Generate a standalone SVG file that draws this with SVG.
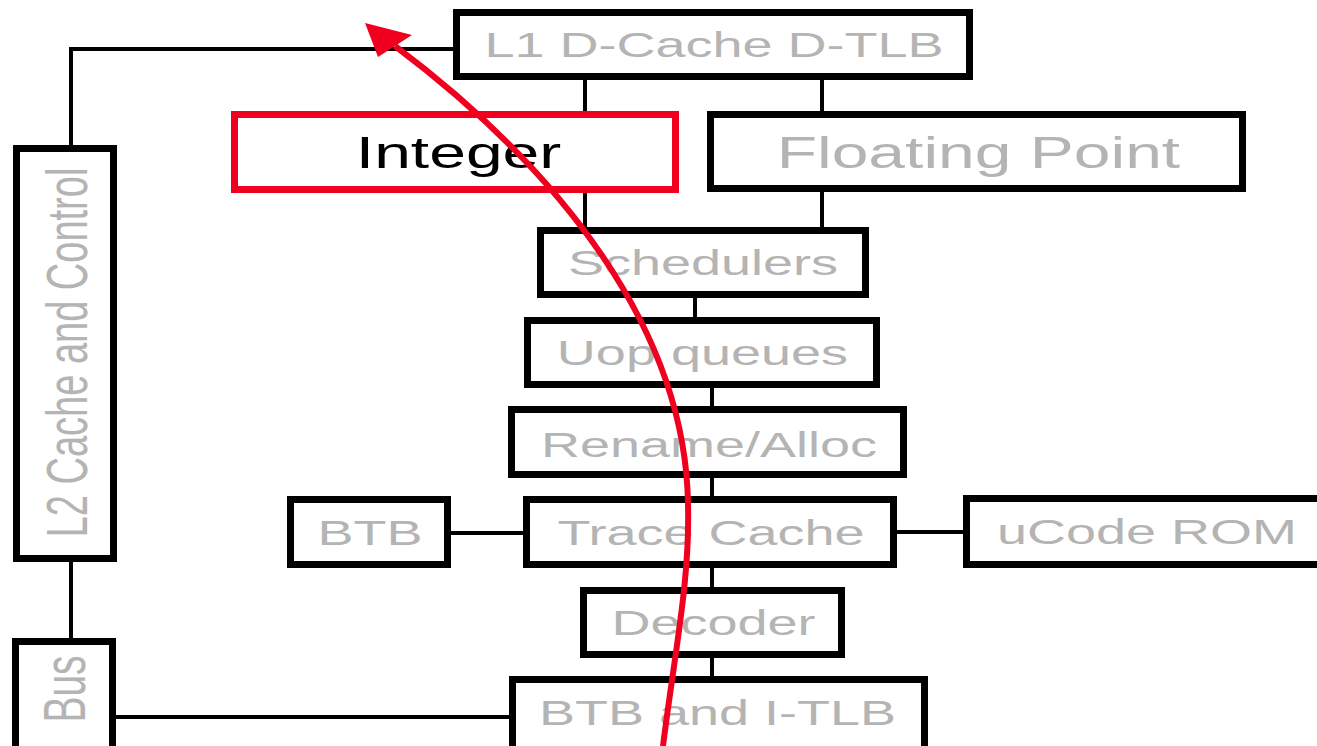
<svg xmlns="http://www.w3.org/2000/svg" width="1317" height="746" viewBox="0 0 1317 746">
<style>
.box{fill:#fff;stroke:#000;stroke-width:7}
.hl{fill:#fff;stroke:#f0001e;stroke-width:7}
.lbl{font-family:"Liberation Sans",Arial,sans-serif;font-size:36px;fill:#b4b4b4;text-anchor:middle}
.big{font-size:44px}
.blk{fill:#000}
.vt{font-family:"Liberation Sans",Arial,sans-serif;fill:#b4b4b4;text-anchor:middle}
.con{fill:none;stroke:#000;stroke-width:4}
.flow{fill:none;stroke:#f0001e;stroke-width:6}
</style>
<rect width="1317" height="746" fill="#fff"/>
<g id="connectors">
<path class="con" d="M71,148 V49 H456"/>
<path class="con" d="M71,559 V641"/>
<path class="con" d="M112,717 H512"/>
<path class="con" d="M585,78 V114"/>
<path class="con" d="M822,78 V114"/>
<path class="con" d="M585,190 V230"/>
<path class="con" d="M822,190 V230"/>
<path class="con" d="M695,296 V320"/>
<path class="con" d="M712,386 V409"/>
<path class="con" d="M712,476 V499"/>
<path class="con" d="M449,533 H526"/>
<path class="con" d="M895,532 H966"/>
<path class="con" d="M712,566 V590"/>
<path class="con" d="M712,656 V679"/>
</g>
<g id="l1">
<rect class="box" x="456.5" y="12.5" width="513" height="64"/>
<text class="lbl" transform="scale(1.5,1)" x="476" y="57">L1 D-Cache D-TLB</text>
</g>
<g id="integer">
<rect class="hl" x="234.5" y="114.5" width="441" height="75"/>
<text class="lbl big blk" transform="scale(1.5,1)" x="305.7" y="168">Integer</text>
</g>
<g id="fp">
<rect class="box" x="710.5" y="114.5" width="532" height="74"/>
<text class="lbl big" transform="scale(1.5,1)" x="652.3" y="168">Floating Point</text>
</g>
<g id="schedulers">
<rect class="box" x="540.5" y="230.5" width="325" height="64"/>
<text class="lbl" transform="scale(1.5,1)" x="468.7" y="275">Schedulers</text>
</g>
<g id="uop">
<rect class="box" x="527.5" y="320.5" width="349" height="64"/>
<text class="lbl" transform="scale(1.5,1)" x="468.3" y="365">Uop queues</text>
</g>
<g id="rename">
<rect class="box" x="511.5" y="409.5" width="392" height="65"/>
<text class="lbl" transform="scale(1.5,1)" x="472.7" y="457">Rename/Alloc</text>
</g>
<g id="btb">
<rect class="box" x="290.5" y="499.5" width="157" height="65"/>
<text class="lbl" transform="scale(1.5,1)" x="246.7" y="545">BTB</text>
</g>
<g id="trace">
<rect class="box" x="526.5" y="499.5" width="367" height="65"/>
<text class="lbl" transform="scale(1.5,1)" x="474" y="545">Trace Cache</text>
</g>
<g id="ucode">
<rect class="box" x="966.5" y="498.5" width="370" height="66"/>
<text class="lbl" transform="scale(1.5,1)" x="764.7" y="544">uCode ROM</text>
</g>
<g id="decoder">
<rect class="box" x="583.5" y="590.5" width="258" height="64"/>
<text class="lbl" transform="scale(1.5,1)" x="475.7" y="635">Decoder</text>
</g>
<g id="btbitlb">
<rect class="box" x="512.5" y="679.5" width="412" height="80"/>
<text class="lbl" transform="scale(1.5,1)" x="478.3" y="725">BTB and I-TLB</text>
</g>
<g id="l2">
<rect class="box" x="16.5" y="148.5" width="97" height="410"/>
<text class="vt" style="font-size:38px" transform="translate(87,352.5) scale(1.5,1) rotate(-90)" x="0" y="0">L2 Cache and Control</text>
</g>
<g id="bus">
<rect class="box" x="15.5" y="641.5" width="97" height="115"/>
<text class="vt" style="font-size:39px" transform="translate(85,689) scale(1.5,1) rotate(-90)" x="0" y="0">Bus</text>
</g>
<g id="flow-arrow">
<path class="flow" d="M663,746 C675,650 690,580 688,505 C686,330 560,170 395,46"/>
<polygon points="365,23 412,35 378,57" fill="#f0001e"/>
</g>
</svg>
